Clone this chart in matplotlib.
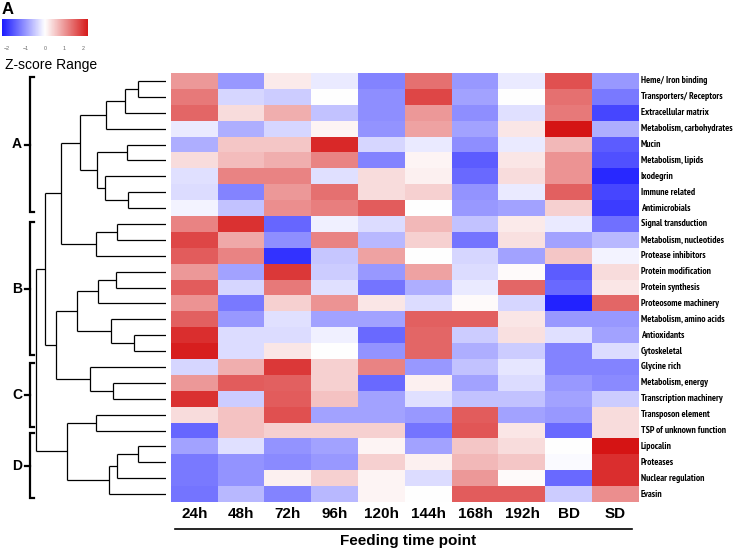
"""Heatmap of transcript-class z-scores across feeding time points, with row dendrogram."""
import os

import numpy as np
import matplotlib

matplotlib.use("Agg")
import matplotlib.pyplot as plt
from matplotlib import font_manager
from matplotlib.collections import LineCollection
from matplotlib.colors import LinearSegmentedColormap
from matplotlib.font_manager import FontProperties

# ---- data -----------------------------------------------------------------
ROWS = [
    "Heme/ Iron binding", "Transporters/ Receptors", "Extracellular matrix",
    "Metabolism, carbohydrates", "Mucin", "Metabolism, lipids", "Ixodegrin",
    "Immune related", "Antimicrobials", "Signal transduction",
    "Metabolism, nucleotides", "Protease inhibitors", "Protein modification",
    "Protein synthesis", "Proteosome machinery", "Metabolism, amino acids",
    "Antioxidants", "Cytoskeletal", "Glycine rich", "Metabolism, energy",
    "Transcription machinery", "Transposon element", "TSP of unknown function",
    "Lipocalin", "Proteases", "Nuclear regulation", "Evasin",
]
COLUMNS = ["24h", "48h", "72h", "96h", "120h", "144h", "168h", "192h", "BD", "SD"]

z_24h = [1.0, 1.3, 1.5, -0.2, -0.8, 0.35, -0.3, -0.35, -0.1, 1.2, 1.8, 1.6, 1.0, 1.6,
         1.05, 1.55, 2.05, 2.2, -0.4, 1.0, 2.0, 0.35, -1.5, -0.9, -1.3, -1.3, -1.35]
z_48h = [-1.0, -0.4, 0.35, -0.8, 0.55, 0.65, 1.2, -1.2, -0.6, 2.0, 0.85, 1.2, -0.9, -0.4,
         -1.3, -1.0, -0.35, -0.35, 0.8, 1.6, -0.5, 0.6, 0.6, -0.3, -1.05, -1.05, -0.7]
z_72h = [0.2, -0.5, 0.8, -0.4, 0.55, 0.8, 1.2, 1.0, 1.1, -1.5, -1.1, -2.0, 1.95, 1.3,
         0.45, -0.3, -0.35, 0.25, 1.95, 1.55, 1.6, 1.7, 0.45, -1.05, -1.15, 0.15, -1.2]
z_96h = [-0.2, 0.0, -0.6, 0.1, 2.1, 1.2, -0.3, 1.4, 1.25, -0.15, 1.2, -0.55, -0.5, -0.3,
         1.05, -0.9, -0.15, 0.0, 0.45, 0.45, 0.6, -0.9, 0.45, -0.9, -1.0, 0.45, -0.7]
z_120h = [-1.2, -1.1, -1.1, -1.05, -0.4, -1.2, 0.35, 0.35, 1.6, -0.35, -0.7, 0.9, -1.0, -1.35,
          0.25, -0.9, -1.45, -1.05, 1.2, -1.45, -0.9, -0.9, 0.45, 0.1, 0.45, 0.1, 0.1]
z_144h = [1.4, 1.8, 1.0, 0.9, -0.2, 0.1, 0.15, 0.45, 0.0, 0.7, 0.45, 0.0, 0.9, -0.8,
          -0.35, 1.55, 1.5, 1.5, -1.0, 0.15, -0.3, -1.0, -1.35, -0.9, 0.15, -0.35, 0.0]
z_168h = [-1.0, -0.9, -1.1, -0.9, -1.1, -1.6, -1.45, -1.05, -1.0, -0.6, -1.35, -0.4, -0.35, -0.2,
          0.05, 1.55, -0.5, -0.8, -0.6, -0.9, -0.6, 1.6, 1.65, 0.55, 0.7, 1.0, 1.6]
z_192h = [-0.2, 0.0, -0.3, 0.25, -0.2, 0.25, 0.35, -0.2, -0.9, 0.2, 0.3, -0.9, 0.05, 1.5,
          -0.4, 0.25, 0.3, -0.5, -0.25, -0.35, -0.6, -0.9, 0.25, 0.35, 0.55, 0.05, 1.6]
z_BD = [1.7, 1.4, 1.3, 2.3, 0.7, 1.05, 1.05, 1.55, 0.45, -0.2, -0.9, 0.55, -1.6, -1.45,
        -2.15, -1.0, -0.3, -1.2, -1.2, -1.0, -0.9, -1.0, -1.45, 0.0, -0.05, -1.45, -0.5]
z_SD = [-1.0, -1.3, -1.8, -0.8, -1.6, -1.7, -2.1, -1.8, -1.9, -1.4, -0.7, -0.1, 0.35, 0.25,
        1.5, -1.0, -0.9, -0.35, -1.2, -1.15, -0.5, 0.35, 0.35, 2.3, 2.05, 2.05, 1.1]

# row clustering, scipy-style: (child a, child b, merge height); new nodes numbered from 27
LINKAGE = [
    (0, 1, 28), (27, 2, 41), (28, 3, 60), (4, 5, 39), (7, 8, 38), (6, 31, 61),
    (30, 32, 69), (29, 33, 86), (9, 10, 49), (35, 11, 70), (34, 36, 105),
    (12, 13, 50), (38, 14, 68), (16, 17, 32), (15, 40, 55), (39, 41, 89),
    (19, 20, 53), (18, 43, 76), (42, 44, 110), (37, 45, 121), (21, 22, 70),
    (23, 24, 28), (48, 25, 49), (49, 26, 57), (47, 50, 99), (46, 51, 130),
]

GROUPS = ["A", "B", "C", "D"]
GROUP_SPANS = [(-0.25, 8.25), (8.88, 17.25), (17.75, 21.78), (22.16, 26.25)]

# ---- style ----------------------------------------------------------------
W, H = 740, 551
SANS = "Liberation Sans"
plt.rcParams["font.family"] = SANS

CMAP = LinearSegmentedColormap.from_list("bwr_z", ["#0000ff", "#ffffff", "#d20000"])
VMIN, VMAX = -2.5, 2.5


def narrow_bold():
    """A condensed bold face if one is installed, else the regular bold sans."""
    best = None
    for f in font_manager.fontManager.ttflist:
        key = (f.name + " " + os.path.basename(f.fname)).lower()
        narrow = "narrow" in key or "condensed" in key or "condensed" in str(f.stretch)
        if not narrow or "bold" not in str(f.weight).lower() and f.weight not in (700, 600):
            continue
        rank = 0 if "narrow" in key else 1
        if best is None or rank < best[0]:
            best = (rank, f.fname)
    if best:
        return FontProperties(fname=best[1])
    return FontProperties(family=SANS, weight="bold")


def fx(px):
    return px / W


def fy(py):
    return 1 - py / H


def dendro_segments(links, n):
    pos = {i: float(i) for i in range(n)}
    hgt = {i: 0.0 for i in range(n)}
    segs = []
    for k, (a, b, h) in enumerate(links):
        for c in (a, b):
            segs.append([(hgt[c], pos[c]), (h, pos[c])])
        segs.append([(h, pos[a]), (h, pos[b])])
        pos[n + k] = (pos[a] + pos[b]) / 2
        hgt[n + k] = h
    return segs


def main():
    data = np.column_stack([z_24h, z_48h, z_72h, z_96h, z_120h, z_144h,
                            z_168h, z_192h, z_BD, z_SD])
    n_rows, n_cols = data.shape

    fig = plt.figure(figsize=(W / 100, H / 100), dpi=100)
    renderer = fig.canvas.get_renderer()

    # heatmap
    hm_l, hm_r, hm_t, hm_b = 171, 639, 73, 502
    ax = fig.add_axes([fx(hm_l), fy(hm_b), fx(hm_r - hm_l), (hm_b - hm_t) / H])
    ax.imshow(data, cmap=CMAP, vmin=VMIN, vmax=VMAX, aspect="auto",
              interpolation="nearest")
    ax.set_xticks([])
    ax.set_yticks([])
    for s in ax.spines.values():
        s.set_visible(False)

    # row labels: condensed bold, sized so the longest fits in ~98 px
    lab_fp = narrow_bold()
    lab_fp.set_size(6.9)
    labels = []
    for i, lab in enumerate(ROWS):
        labels.append(ax.text(n_cols - 0.5 + 0.04, i, lab, ha="left", va="center",
                              fontproperties=lab_fp, clip_on=False))
    widest = max(t.get_window_extent(renderer).width for t in labels)
    if widest > 97:
        size = 6.9 * 97 / widest
        for t in labels:
            t.set_fontsize(size)

    # column labels
    for j, lab in enumerate(COLUMNS):
        ax.text(j, n_rows - 0.5 + 0.75, lab, ha="center", va="center",
                fontsize=11, fontweight="bold", clip_on=False)

    fig.add_artist(plt.Line2D([fx(175), fx(632)], [fy(529), fy(529)],
                              color="black", lw=1.2))
    fig.text(fx(408), fy(541), "Feeding time point", ha="center", va="center",
             fontsize=11, fontweight="bold")

    # dendrogram
    axd = fig.add_axes([0, fy(hm_b), fx(166), (hm_b - hm_t) / H])
    axd.add_collection(LineCollection(dendro_segments(LINKAGE, n_rows),
                                      colors="black", linewidths=0.9))
    # group brackets
    for g, (y0, y1) in zip(GROUPS, GROUP_SPANS):
        axd.plot([132, 136, 136, 132], [y0, y0, y1, y1], color="black", lw=1.6,
                 solid_joinstyle="miter", clip_on=False)
        ym = (y0 + y1) / 2
        axd.plot([141, 136], [ym, ym], color="black", lw=1.6, clip_on=False)
        axd.text(149, ym, g, ha="center", va="center", fontsize=10,
                 fontweight="bold", clip_on=False)
    axd.set_xlim(166, 0)
    axd.set_ylim(n_rows - 0.5, -0.5)
    axd.set_axis_off()

    # colour key
    axc = fig.add_axes([fx(2), fy(36), fx(86), 17 / H])
    axc.imshow(np.linspace(-2.23, 2.23, 256)[None, :], cmap=CMAP, vmin=VMIN,
               vmax=VMAX, aspect="auto", extent=[-2.23, 2.23, 0, 1])
    axc.set_yticks([])
    axc.set_xticks([-2, -1, 0, 1, 2])
    axc.tick_params(axis="x", length=0, labelsize=3.8, labelcolor="#666666", pad=7)
    for s in axc.spines.values():
        s.set_visible(False)
    fig.text(fx(5), fy(65), "Z-score Range", ha="left", va="center", fontsize=10)
    fig.text(fx(2), fy(9), "A", ha="left", va="center", fontsize=12,
             fontweight="bold")

    fig.savefig("out.png", dpi=100)


if __name__ == "__main__":
    main()
